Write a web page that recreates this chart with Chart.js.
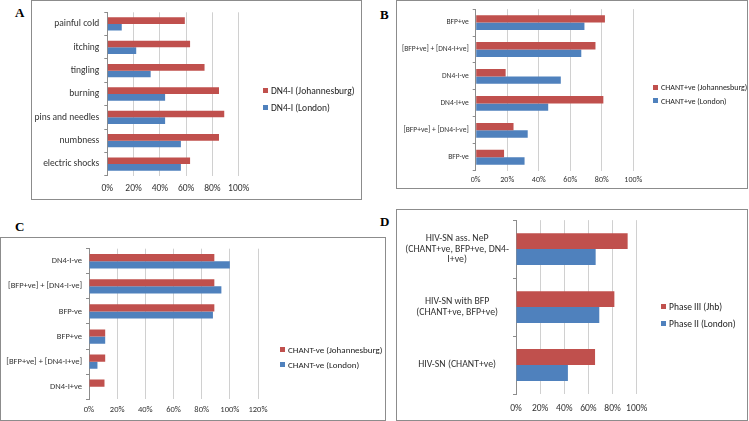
<!DOCTYPE html>
<html>
<head>
<meta charset="utf-8">
<script src="https://cdn.jsdelivr.net/npm/chart.js@4/dist/chart.umd.min.js"></script>
<style>
    body { margin: 0; background: #fff; }
    #page { position: relative; width: 749px; height: 421px; overflow: hidden; background: #fff; font-family: Carlito, Lato, sans-serif; }
    .box { position: absolute; border: 1px solid #8c8c8c; box-sizing: border-box; }
    .panel-label { position: absolute; font-family: "Liberation Serif", "DejaVu Serif", serif; font-weight: bold; font-size: 13px; color: #000; }
    canvas { position: absolute; }
    .legend { position: absolute; color: #222; white-space: nowrap; }
    .legend div { position: relative; }
    .legend span { display: inline-block; width: 5px; height: 5px; margin-right: 3px; vertical-align: middle; position: relative; top: -1px; }
</style>
</head>
<body>
<div id="page">
    <div class="box" style="left:31px; top:0px; width:331px; height:200px;"></div>
    <div class="box" style="left:396px; top:0px; width:352px; height:189px;"></div>
    <div class="box" style="left:0px; top:237px; width:386px; height:184px;"></div>
    <div class="box" style="left:396px; top:209px; width:352px; height:212px;"></div>

    <div class="panel-label" style="left:15px; top:5px;">A</div>
    <div class="panel-label" style="left:380px; top:7px;">B</div>
    <div class="panel-label" style="left:15px; top:219px;">C</div>
    <div class="panel-label" style="left:380px; top:214px;">D</div>

    <canvas id="chartA" width="328" height="196" style="left:32px; top:2px;"></canvas>
    <canvas id="chartB" width="349" height="186" style="left:398px; top:1px;"></canvas>
    <canvas id="chartC" width="381" height="179" style="left:2px; top:240px;"></canvas>
    <canvas id="chartD" width="349" height="208" style="left:398px; top:211px;"></canvas>

    <div class="legend" id="legendA" style="left:263px; top:83px; font-size:9.5px; line-height:17px;"></div>
    <div class="legend" id="legendB" style="left:653px; top:81px; font-size:8px; line-height:13.5px;"></div>
    <div class="legend" id="legendC" style="left:280px; top:342px; font-size:9px; line-height:15px;"></div>
    <div class="legend" id="legendD" style="left:661px; top:299px; font-size:9.5px; line-height:17px;"></div>
</div>

<script>
// colores de las series
const rojo = '#c0504d';
const azul = '#4f81bd';

// Panel A
const catsA = ['painful cold', 'itching', 'tingling', 'burning', 'pins and needles', 'numbness', 'electric shocks'];
const jhbA = [59, 63, 74, 85, 89, 85, 63];
const lonA = [11, 22, 33, 44, 44, 56, 56];
const seriesA = ['DN4-I (Johannesburg)', 'DN4-I (London)'];

// Panel B
const catsB = ['BFP+ve', '[BFP+ve] + [DN4-I+ve]', 'DN4-I-ve', 'DN4-I+ve', '[BFP+ve] + [DN4-I-ve]', 'BFP-ve'];
const jhbB = [82, 76, 19, 81, 24, 18];
const lonB = [69, 67, 54, 46, 33, 31];
const seriesB = ['CHANT+ve (Johannesburg)', 'CHANT+ve (London)'];

// Panel C
const catsC = ['DN4-I-ve', '[BFP+ve] + [DN4-I-ve]', 'BFP-ve', 'BFP+ve', '[BFP+ve] + [DN4-I+ve]', 'DN4-I+ve'];
const jhbC = [89, 89, 89, 11.5, 11.5, 11];
const lonC = [100, 94, 88, 11.5, 6, 0];
const seriesC = ['CHANT-ve (Johannesburg)', 'CHANT-ve (London)'];

// Panel D
const catsD = [
    ['HIV-SN ass. NeP', '(CHANT+ve, BFP+ve, DN4-', 'I+ve)'],
    ['HIV-SN with BFP', '(CHANT+ve, BFP+ve)'],
    'HIV-SN (CHANT+ve)'
];
const jhbD = [92.5, 81.5, 65.5];
const lonD = [66, 69, 43];
const seriesD = ['Phase III (Jhb)', 'Phase II (London)'];

const fuente = 'Carlito, Lato, sans-serif';

function crearGrafico(id, labels, jhb, lon, nombres, cfg) {
    const canvas = document.getElementById(id);
    new Chart(canvas, {
        type: 'bar',
        data: {
            labels: labels,
            datasets: [
                { label: nombres[0], data: jhb, backgroundColor: rojo },
                { label: nombres[1], data: lon, backgroundColor: azul }
            ]
        },
        options: {
            indexAxis: 'y',
            responsive: false,
            animation: false,
            devicePixelRatio: 1,
            categoryPercentage: cfg.catPct,
            barPercentage: 1,
            layout: { padding: { top: cfg.top, right: cfg.right, bottom: 0, left: 0 } },
            plugins: { legend: { display: false }, tooltip: { enabled: false } },
            scales: {
                x: {
                    min: 0,
                    max: cfg.max,
                    ticks: {
                        stepSize: 20,
                        padding: cfg.xPad,
                        maxRotation: 0,
                        minRotation: 0,
                        autoSkip: false,
                        color: '#333',
                        font: { family: fuente, size: cfg.tickSize },
                        callback: v => v + '%'
                    },
                    grid: { color: '#d0d0d0', drawTicks: false },
                    border: { display: false },
                    afterFit: s => { s.height = cfg.xHeight; }
                },
                y: {
                    ticks: {
                        padding: cfg.yPad,
                        crossAlign: cfg.cross || 'near',
                        autoSkip: false,
                        color: '#333',
                        font: { family: fuente, size: cfg.labelSize, lineHeight: cfg.lh || 1.1 }
                    },
                    grid: { drawOnChartArea: false, drawTicks: true, tickLength: 3, color: '#8c8c8c' },
                    border: { color: '#8c8c8c' },
                    afterFit: s => { s.width = cfg.yWidth; }
                }
            }
        }
    });
}

function crearLeyenda(id, nombres) {
    const cont = document.getElementById(id);
    cont.innerHTML = nombres.map((n, i) =>
        `<div><span style="background:${i === 0 ? rojo : azul}"></span>${n}</div>`
    ).join('');
}

crearGrafico('chartA', catsA, jhbA, lonA, seriesA, {
    max: 100, catPct: 0.57, top: 10.3, right: 121.3, yWidth: 75.3, xHeight: 22.3,
    xPad: 7, yPad: 5, tickSize: 9.5, labelSize: 9.5
});
crearGrafico('chartB', catsB, jhbB, lonB, seriesB, {
    max: 100, catPct: 0.55, top: 6.3, right: 113.7, yWidth: 77.7, xHeight: 16.3,
    xPad: 4, yPad: 4, tickSize: 8, labelSize: 7.5
});
crearGrafico('chartC', catsC, jhbC, lonC, seriesC, {
    max: 120, catPct: 0.57, top: 6.7, right: 125, yWidth: 87, xHeight: 19.7,
    xPad: 5, yPad: 4, tickSize: 8.5, labelSize: 8.5
});
crearGrafico('chartD', catsD, jhbD, lonD, seriesD, {
    max: 100, catPct: 0.55, top: 9, right: 110.3, yWidth: 118, xHeight: 25,
    xPad: 9, yPad: 4, tickSize: 9.5, labelSize: 9.8, lh: 1.05, cross: 'center'
});

crearLeyenda('legendA', seriesA);
crearLeyenda('legendB', seriesB);
crearLeyenda('legendC', seriesC);
crearLeyenda('legendD', seriesD);
</script>
</body>
</html>
